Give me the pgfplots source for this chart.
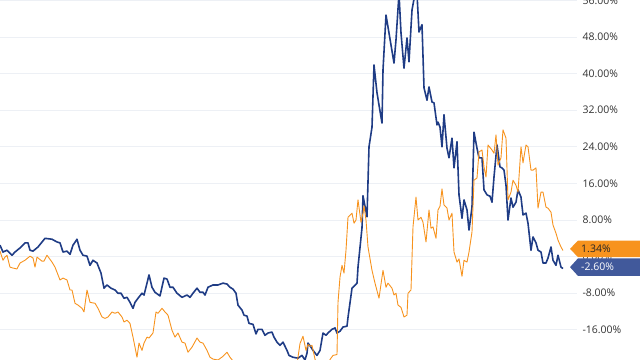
\documentclass[border=0pt]{standalone}
\usepackage{fontspec}
\setmainfont{Open Sans}
\usepackage{pgfplots}
\pgfplotsset{compat=1.18}
\definecolor{navy}{HTML}{1F3C85}
\definecolor{orng}{HTML}{F7931E}
\definecolor{navytag}{HTML}{41599B}
\definecolor{gridc}{HTML}{EDF0F5}
\begin{document}
\begin{tikzpicture}[x=1pt,y=1pt]
\begin{axis}[
  scale only axis, width=577pt, height=360pt,
  xmin=0, xmax=577, ymin=-22.6, ymax=56.1,
  axis x line=none,
  axis y line*=right,
  y axis line style={draw=none},
  ytick={-16,-8,...,56},
  ymajorgrids, grid style={color=gridc, line width=0.8pt},
  major tick length=0pt,
  yticklabel style={anchor=west, xshift=2pt, font=\fontsize{10.5}{12}\selectfont, text=black!80},
  /pgf/number format/assume math mode=true,
  yticklabel={\pgfmathprintnumber[fixed,fixed zerofill,precision=2]{\tick}\%},
  clip=true,
]
\addplot[navy, line width=1.6pt, line join=round] coordinates {
(0,2.5)(3,1.0)(7,1.4)(12,0.3)(15,1.0)(20,1.9)(25,3.0)(28,3.0)(30,1.4)(33,1.2)
(38,2.1)(45,4.0)(52,3.8)(57,3.2)(60,3.0)(63,1.0)(67,1.2)(70,0.5)(73,2.5)(77,3.8)
(80,1.4)(83,0.3)(87,0.1)(90,-1.9)(93,-0.8)(97,-1.4)(101,-3.6)(104,-6.9)(107,-6.2)(111,-6.9)
(115,-7.3)(118,-8.0)(121,-8.0)(124,-9.1)(127,-8.9)(130,-10.0)(133,-11.3)(135,-10.0)(138,-9.1)(142,-8.0)
(144,-8.4)(147,-5.8)(149,-4.0)(152,-6.7)(155,-7.8)(160,-8.6)(164,-4.7)(167,-4.9)(170,-6.7)(173,-6.7)
(177,-8.0)(182,-8.9)(187,-8.4)(190,-8.9)(193,-8.0)(197,-6.9)(200,-7.8)(203,-7.8)(205,-8.4)(208,-6.7)
(213,-6.2)(218,-6.2)(223,-5.8)(227,-6.0)(230,-6.7)(233,-7.1)(236,-8.0)(238,-10.6)(242,-11.7)(244,-12.8)
(247,-13.0)(249,-14.6)(253,-14.8)(256,-16.9)(258,-15.9)(262,-15.9)(265,-17.2)(268,-16.7)(272,-16.5)(274,-17.6)
(277,-18.7)(280,-19.4)(283,-18.7)(287,-20.5)(289,-21.6)(293,-22.0)(298,-22.2)(302,-21.6)(305,-22.6)(307,-21.1)
(308,-18.9)(311,-19.8)(313,-20.5)(317,-21.6)(320,-20.5)(323,-16.7)(326,-17.2)(328,-16.7)(332,-15.9)(335,-15.6)
(337,-16.7)(340,-16.3)(343,-15.4)(347,-15.2)(348,-13.3)(352,-6.9)(357,-5.8)(358,-2.3)(362,6.3)(363,13.3)
(367,8.7)(369,24.0)(372,28.3)(374,41.9)(377,35.8)(382,29.2)(383,40.8)(386,52.8)(389,48.9)(394,42.3)
(396,47.4)(399,57.5)(401,48.9)(404,41.2)(407,47.8)(409,42.6)(412,53.9)(415,57.5)(417,57.5)(419,49.1)
(422,50.7)(424,36.9)(427,34.2)(429,37.1)(432,33.8)(434,33.6)(437,28.8)(438,29.4)(440,28.3)(442,24.0)
(444,31.0)(447,23.7)(449,21.6)(452,25.9)(454,19.4)(457,25.1)(459,13.5)(462,8.4)(464,12.4)(467,10.2)
(469,5.8)(472,10.8)(474,27.2)(477,23.7)(479,21.6)(482,21.6)(484,14.6)(487,13.5)(490,13.2)(492,11.9)
(494,17.4)(497,24.4)(500,19.6)(502,19.4)(504,18.9)(506,15.6)(508,8.0)(511,12.8)(513,10.8)(516,11.9)
(518,14.6)(521,13.0)(523,9.1)(526,9.5)(528,7.3)(531,1.4)(533,4.3)(536,3.0)(538,1.4)(541,1.0)
(543,-1.4)(546,-1.4)(548,-0.3)(551,2.1)(553,-0.8)(556,-1.9)(558,0.3)(561,-2.3)(563,-2.6)
};
\addplot[orng, line width=0.9pt, line join=round] coordinates {
(0,1.2)(3,-0.8)(5,-0.1)(7,0.3)(10,-2.3)(13,-2.5)(17,-2.7)(20,-1.4)(25,-0.8)(30,0.1)
(33,-0.3)(35,-2.3)(37,-0.1)(42,-1.0)(44,-1.0)(47,0.3)(52,-1.2)(55,-2.3)(60,-5.1)(63,-4.7)
(67,-5.1)(70,-7.3)(72,-7.3)(75,-10.2)(78,-10.6)(82,-11.3)(84,-12.1)(87,-7.3)(90,-10.0)(95,-10.2)
(98,-11.3)(102,-13.2)(105,-13.5)(108,-13.2)(112,-12.1)(115,-12.4)(118,-12.1)(122,-13.2)(124,-14.3)(127,-13.9)
(130,-14.6)(133,-17.6)(137,-22.0)(139,-18.9)(142,-20.5)(144,-18.9)(147,-17.6)(149,-17.8)(153,-16.7)(156,-12.1)
(158,-12.4)(162,-11.3)(165,-12.1)(168,-12.8)(172,-16.1)(175,-17.6)(178,-16.7)(182,-18.7)(185,-18.9)(188,-20.9)
(192,-19.8)(197,-17.8)(200,-18.7)(203,-18.9)(207,-20.5)(210,-22.0)(213,-22.4)(218,-22.6)(223,-21.8)(227,-20.9)
(230,-22.0)(233,-22.8)(238,-24.5)(245,-25.5)(255,-26.0)(265,-26.5)(275,-26.0)(285,-25.5)(293,-24.5)(297,-23.5)
(300,-19.0)(303,-17.4)(306,-20.5)(308,-19.2)(310,-19.6)(312,-19.4)(315,-22.4)(318,-24.5)(325,-25.0)(330,-22.5)
(333,-21.6)(337,-21.4)(338,-10.0)(340,-4.5)(342,-1.9)(344,-3.6)(346,1.4)(348,8.6)(352,9.5)(354,7.3)
(356,8.0)(358,12.4)(361,7.5)(363,9.5)(364,11.1)(366,8.0)(368,2.1)(372,-3.0)(375,-5.8)(379,-9.1)
(382,-4.5)(383,-3.0)(386,-6.7)(388,-5.8)(392,-6.9)(394,-8.4)(396,-8.0)(398,-10.6)(401,-11.1)(404,-13.2)
(407,-12.8)(408,-8.0)(411,-7.3)(413,6.5)(416,13.0)(418,8.0)(421,8.6)(423,7.5)(426,3.2)(429,10.2)
(431,6.2)(433,6.5)(436,4.0)(438,10.2)(440,11.0)(442,14.8)(444,11.3)(447,10.6)(449,8.0)(452,9.5)
(454,1.0)(457,-1.2)(459,-0.5)(462,-4.3)(464,-0.8)(467,-1.2)(469,1.0)(472,5.4)(474,16.7)(477,17.2)
(479,22.9)(482,23.3)(484,19.6)(486,17.4)(488,24.4)(492,23.3)(494,22.6)(496,26.6)(498,20.0)(501,21.6)
(503,27.7)(506,25.9)(508,12.4)(511,14.1)(513,16.7)(516,15.6)(518,14.1)(521,24.0)(523,20.5)(526,24.4)
(528,24.0)(531,18.9)(533,18.9)(536,19.4)(538,10.6)(541,14.1)(543,14.1)(546,10.8)(548,10.6)(551,9.7)
(553,6.9)(556,5.1)(558,3.6)(561,2.1)(563,1.34)
};
\coordinate (to) at (axis cs:570,1.7);
\coordinate (tn) at (axis cs:570,-2.3);
\coordinate (bl) at (rel axis cs:0,0);
\coordinate (tr) at (rel axis cs:1,1);
\end{axis}
\fill[orng] (to) -- ++(8,8.3) -- ++(62,0) -- ++(0,-16.6) -- ++(-62,0) -- cycle;
\fill[navytag] (tn) -- ++(8,8.8) -- ++(62,0) -- ++(0,-17.6) -- ++(-62,0) -- cycle;
\node[anchor=west, inner sep=0pt, font=\fontsize{10.5}{12}\selectfont, text=black!85] at ([xshift=11pt]to) {1.34\%};
\node[anchor=west, inner sep=0pt, font=\fontsize{10.5}{12}\selectfont, text=white] at ([xshift=11pt]tn) {-2.60\%};
\pgfresetboundingbox
\path (bl) rectangle ([xshift=63pt]tr);
\end{tikzpicture}
\end{document}
